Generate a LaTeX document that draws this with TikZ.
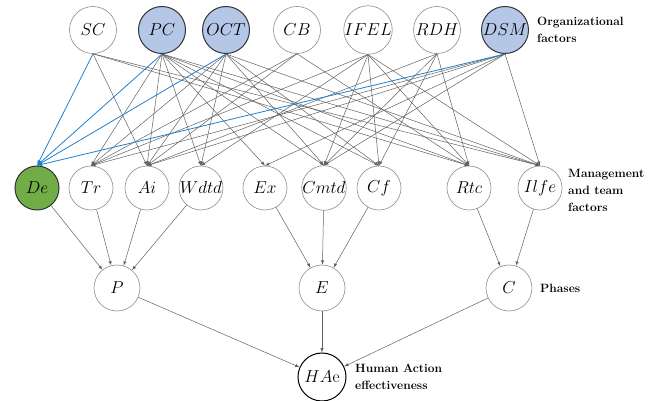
\documentclass[tikz,border=0pt]{standalone}
\usepackage{tikz}
\usetikzlibrary{shapes}
\usepackage{color}
\definecolor{orgblue}{RGB}{180,199,231}
\definecolor{degreen}{RGB}{112,173,71}
\definecolor{linkblue}{RGB}{30,128,206}
\tikzset{
  factor/.style={circle, draw=black!45, fill=white, line width=0.6pt,
    minimum size=44pt, inner sep=0pt, font=\fontsize{16}{19}\selectfont},
  topfactor/.style={factor, minimum size=47pt},
  marked/.style={draw=black!80, line width=1pt, fill=orgblue},
  link/.style={->, >=latex, draw=black!62, line width=0.5pt},
  bluelink/.style={->, >=latex, draw=linkblue, line width=0.8pt},
  note/.style={anchor=west, align=left, inner sep=0pt,
    font=\bfseries\fontsize{12}{17}\selectfont},
}

\begin{document}
\begin{tikzpicture}[x=1pt,y=-1pt]
  \useasboundingbox (0,0) rectangle (657,401);

  % organizational factors
  \foreach \n/\x in {SC/93,CB/297,IFEL/368,RDH/437}
    \node[topfactor] (\n) at (\x,30) {$\n$};
  \foreach \n/\x in {PC/162,OCT/226,DSM/505}
    \node[topfactor, marked] (\n) at (\x,30) {$\n$};

  % management and team factors
  \node[factor, draw=black!80, line width=1pt, fill=degreen] (De) at (37,188) {$De$};
  \foreach \n/\x in {Tr/91,Ai/147,Wdtd/201,Ex/265,Cmtd/324,Cf/379,Rtc/469,Ilfe/540}
    \node[factor] (\n) at (\x,188) {$\n$};

  % phases
  \node[factor, minimum size=46pt] (P) at (117,288) {$P$};
  \node[factor, minimum size=46pt] (E) at (322,288) {$E$};
  \node[factor, minimum size=46pt] (C) at (509,288) {$C$};
  \node[factor, minimum size=48pt, draw=black, line width=1pt] (HAe) at (322,377) {$HA\mathrm{e}$};

  % labels
  \node[note] (orglab) at (537,29.5) {Organizational\\factors};
  \node[note] (mtlab) at (568,190) {Management\\and team\\factors};
  \node[note] (phlab) at (540,288) {Phases};
  \node[note] (halab) at (355,377) {Human Action\\effectiveness};

  % links
  \foreach \s/\tl in {SC/{Ai,Rtc,Ilfe},
      PC/{Tr,Ai,Wdtd,Ex,Cmtd,Cf,Rtc,Ilfe},
      OCT/{Tr,Ai,Wdtd,Cmtd,Cf,Ilfe},
      CB/{Tr,Ai,Rtc},
      IFEL/{Tr,Wdtd,Cmtd,Cf,Rtc,Ilfe},
      RDH/{Ai,Cmtd,Cf,Rtc},
      DSM/{Tr,Ai,Ex,Cmtd,Ilfe}}
    \foreach \t in \tl
      \draw[link] (\s.south) -- (\t.north);
  \foreach \s in {SC,PC,OCT,DSM}
    \draw[bluelink] (\s.south) -- (De.north);

  \foreach \s/\t in {De/P,Tr/P,Ai/P,Wdtd/P,Ex/E,Cmtd/E,Cf/E,Rtc/C,Ilfe/C,P/HAe,E/HAe,C/HAe}
    \draw[link] (\s) -- (\t);
\end{tikzpicture}
\end{document}
